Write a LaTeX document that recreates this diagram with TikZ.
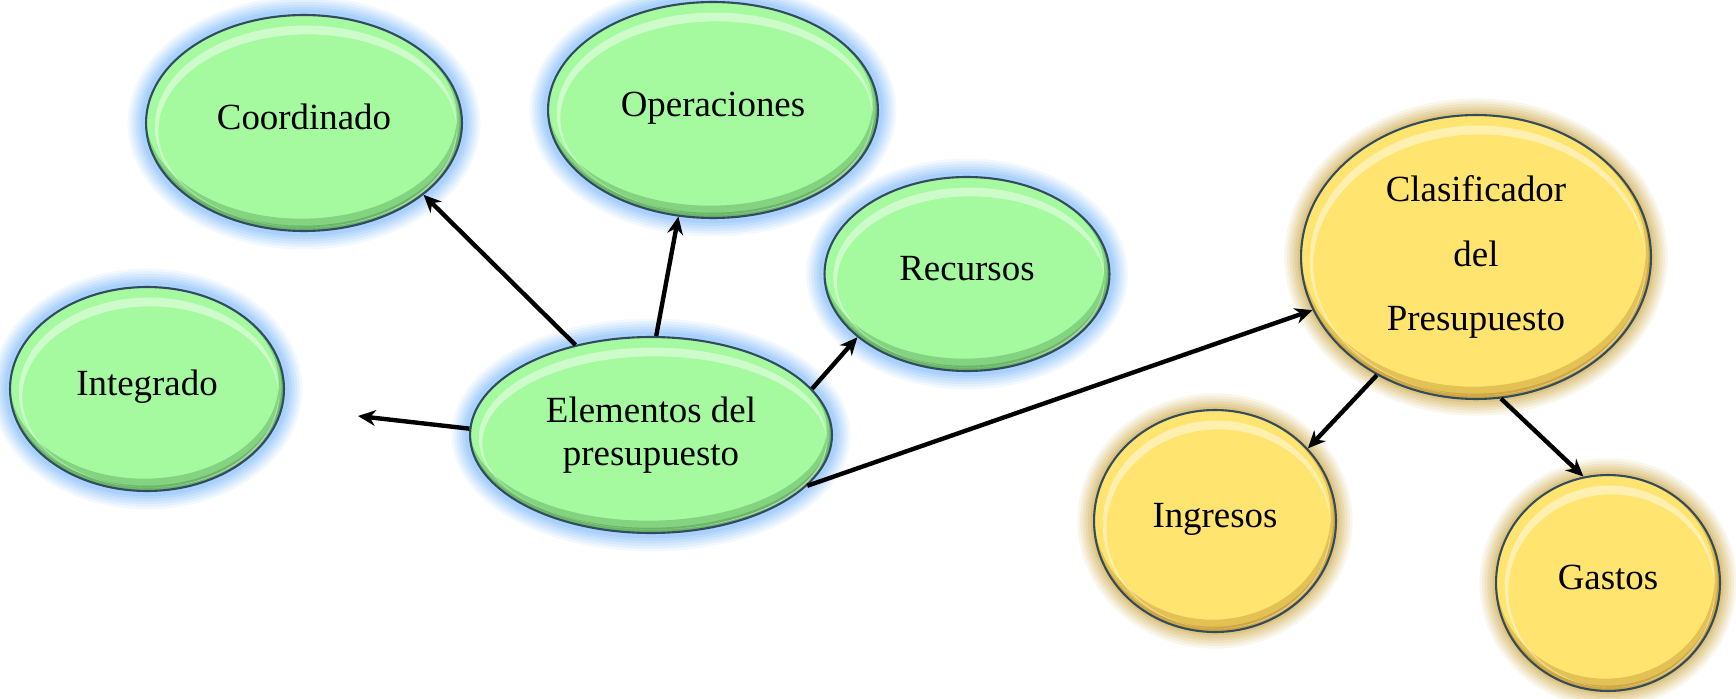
\documentclass[tikz,border=0pt]{standalone}
\usepackage{fontspec}
\setmainfont{Liberation Serif}
\usetikzlibrary{arrows.meta,shapes.geometric,calc}

\definecolor{bubgreen}{RGB}{165,250,160}
\definecolor{rimgreen}{RGB}{70,140,70}
\definecolor{glowblue}{RGB}{125,185,250}
\definecolor{bubyellow}{RGB}{255,228,112}
\definecolor{rimyellow}{RGB}{175,130,35}
\definecolor{glowyellow}{RGB}{205,168,70}
\definecolor{edgeslate}{RGB}{50,75,95}

% shaded rim (dark towards bottom right, light towards top left)
\tikzset{bevel/.style={path picture={
  \fill[#1, fill opacity=.35, even odd rule]
    let \p1=(path picture bounding box.north east), \p2=(path picture bounding box.center),
        \n1={\x1-\x2}, \n2={\y1-\y2} in
    (\p2) ellipse [x radius=\n1, y radius=\n2]
    ([xshift=-1.5pt,yshift=3.5pt]\p2) ellipse [x radius=\n1-1.5pt, y radius=\n2-3.5pt];
  \fill[#1, fill opacity=.4, even odd rule]
    let \p1=(path picture bounding box.north east), \p2=(path picture bounding box.center),
        \n1={\x1-\x2}, \n2={\y1-\y2} in
    (\p2) ellipse [x radius=\n1, y radius=\n2]
    ([xshift=-.7pt,yshift=1.5pt]\p2) ellipse [x radius=\n1-.7pt, y radius=\n2-1.5pt];
  \fill[white, fill opacity=.45, even odd rule]
    let \p1=(path picture bounding box.north east), \p2=(path picture bounding box.center),
        \n1={\x1-\x2}, \n2={\y1-\y2} in
    ([xshift=1pt,yshift=-2pt]\p2) ellipse [x radius=\n1-4pt, y radius=\n2-4pt]
    ([xshift=2pt,yshift=-4.5pt]\p2) ellipse [x radius=\n1-5pt, y radius=\n2-6.5pt];
}}}

\begin{document}
\begin{tikzpicture}[x=0.02cm,y=-0.02cm,->,>={Stealth[length=10pt,width=9pt]},line width=2.5pt]
  \tikzstyle{bubble}=[ellipse,draw=edgeslate,line width=1.2pt,inner sep=0pt,align=center,
    font=\fontsize{21}{24.5}\selectfont]
  \tikzstyle{lift}=[text height=15pt,text depth=8pt]
  \tikzstyle{greenbub}=[bubble,fill=bubgreen,
    preaction={draw=glowblue,line width=21pt,draw opacity=.1},
    preaction={draw=glowblue,line width=18pt,draw opacity=.12},
    preaction={draw=glowblue,line width=15pt,draw opacity=.14},
    preaction={draw=glowblue,line width=12pt,draw opacity=.16},
    preaction={draw=glowblue,line width=9pt,draw opacity=.2},
    preaction={draw=glowblue,line width=6pt,draw opacity=.26},
    bevel=rimgreen]
  \tikzstyle{yellowbub}=[bubble,fill=bubyellow,
    preaction={draw=glowyellow,line width=19pt,draw opacity=.1},
    preaction={draw=glowyellow,line width=16pt,draw opacity=.12},
    preaction={draw=glowyellow,line width=13pt,draw opacity=.14},
    preaction={draw=glowyellow,line width=10pt,draw opacity=.16},
    preaction={draw=glowyellow,line width=7pt,draw opacity=.2},
    preaction={draw=glowyellow,line width=4pt,draw opacity=.26},
    bevel=rimyellow]

  \useasboundingbox (0,0) rectangle (1736,699);

  \node[greenbub,lift,minimum width=6.32cm,minimum height=4.32cm] (Co) at (304,123) {Coordinado};
  \node[greenbub,lift,minimum width=6.6cm,minimum height=4.32cm]  (Op) at (713,110) {Operaciones};
  \node[greenbub,lift,minimum width=5.7cm,minimum height=3.88cm]  (Re) at (967,274) {Recursos};
  \node[greenbub,lift,minimum width=5.48cm,minimum height=4.08cm] (In) at (147,389) {Integrado};
  \node[greenbub,minimum width=7.24cm,minimum height=3.92cm] (El) at (651,435) {Elementos del\\presupuesto};
  \node[yellowbub,minimum width=7cm,minimum height=5.68cm]   (Cl) at (1476,257) {Clasificador\\[12pt]del\\[12pt]Presupuesto};
  \node[yellowbub,lift,minimum width=4.84cm,minimum height=4.44cm] (Ig) at (1215,521) {Ingresos};
  \node[yellowbub,lift,minimum width=4.48cm,minimum height=4.32cm] (Ga) at (1608,583) {Gastos};
  \coordinate (fin) at (358,416);

  \path (El.130)  edge (Co.-31)
        (El.87)   edge (Op.252)
        (El.16)   edge (Re.210)
        (El.178)  edge (fin)
        (El.-18)  edge (Cl.198)
        (Cl.230)  edge (Ig.38)
        (Cl.280)  edge (Ga.103);
\end{tikzpicture}
\end{document}
